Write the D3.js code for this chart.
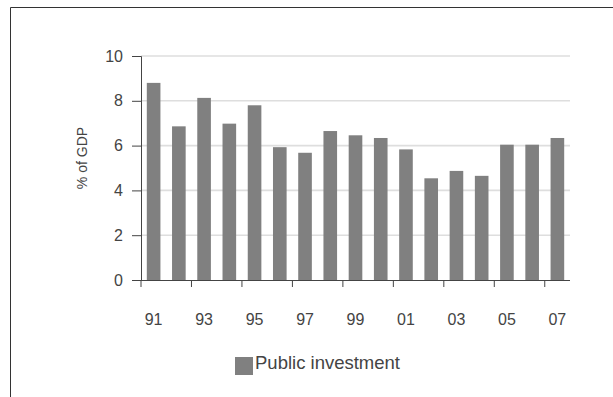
<!DOCTYPE html>
<html>
<head>
<meta charset="utf-8">
<script src="https://cdn.jsdelivr.net/npm/d3@7"></script>
<style>
  body { margin: 0; background: #fff; }
  text { font-family: "Liberation Sans", Arial, sans-serif; fill: #444; }
</style>
</head>
<body>
<script>
// svg size
var width = 613,
    height = 397;

// data
var years = ["91", "92", "93", "94", "95", "96", "97", "98", "99",
             "00", "01", "02", "03", "04", "05", "06", "07"];
var investment = [8.8, 6.86, 8.13, 6.98, 7.8, 5.93, 5.68, 6.65, 6.46,
                  6.34, 5.83, 4.54, 4.87, 4.65, 6.04, 6.04, 6.34];
var yTicks = [0, 2, 4, 6, 8, 10];
var seriesName = "Public investment";

var svg = d3.select("body").append("svg")
    .attr("width", width)
    .attr("height", height)
    .style("display", "block");

// frame, only top and left edges show
svg.append("path")
    .attr("d", "M10.5,397V7.5H613")
    .attr("fill", "none")
    .attr("stroke", "#333")
    .attr("stroke-width", 1);

var x = d3.scaleBand()
    .domain(years)
    .range([141, 570])
    .paddingInner(0.46)
    .paddingOuter(0.23);

var y = d3.scaleLinear()
    .domain([0, 10])
    .range([280, 56]);

// gridlines
svg.append("g")
    .selectAll("line")
    .data(yTicks.slice(1))
    .enter().append("line")
    .attr("x1", 141)
    .attr("x2", 570)
    .attr("y1", function(d) { return y(d); })
    .attr("y2", function(d) { return y(d); })
    .attr("stroke", "#dedede")
    .attr("stroke-width", 1.6);

// bars
svg.append("g")
    .selectAll("rect")
    .data(investment)
    .enter().append("rect")
    .attr("x", function(d, i) { return x(years[i]); })
    .attr("y", function(d) { return y(d); })
    .attr("width", x.bandwidth())
    .attr("height", function(d) { return y(0) - y(d); })
    .attr("fill", "#808080");

// y axis
var yAxis = svg.append("g")
    .attr("transform", "translate(141,0)")
    .call(d3.axisLeft(y).tickValues(yTicks).tickSize(9).tickPadding(9));
yAxis.selectAll("text").style("font-size", "16px").attr("fill", "#444");
yAxis.selectAll("line, path").attr("stroke", "#444");

// x axis: tick marks every other boundary, labels every other year
var step = x.step();
var bounds = d3.range(0, years.length, 2).map(function(k) { return 141 + k * step; });

svg.append("line")
    .attr("x1", 141).attr("x2", 570)
    .attr("y1", y(0) + 0.5).attr("y2", y(0) + 0.5)
    .attr("stroke", "#444");

svg.append("g")
    .selectAll("line")
    .data(bounds)
    .enter().append("line")
    .attr("x1", function(d) { return d; })
    .attr("x2", function(d) { return d; })
    .attr("y1", y(0))
    .attr("y2", y(0) + 7)
    .attr("stroke", "#444");

svg.append("g")
    .selectAll("text")
    .data(years.filter(function(d, i) { return i % 2 == 0; }))
    .enter().append("text")
    .attr("x", function(d) { return x(d) + x.bandwidth() / 2; })
    .attr("y", 325)
    .attr("text-anchor", "middle")
    .style("font-size", "16px")
    .text(function(d) { return d; });

// y axis title
svg.append("text")
    .attr("transform", "translate(87,158) rotate(-90)")
    .attr("text-anchor", "middle")
    .style("font-size", "14px")
    .text("% of GDP");

// legend
svg.append("rect")
    .attr("x", 235)
    .attr("y", 357)
    .attr("width", 18)
    .attr("height", 18)
    .attr("fill", "#808080");

svg.append("text")
    .attr("x", 255)
    .attr("y", 369)
    .style("font-size", "18.5px")
    .text(seriesName);
</script>
</body>
</html>
